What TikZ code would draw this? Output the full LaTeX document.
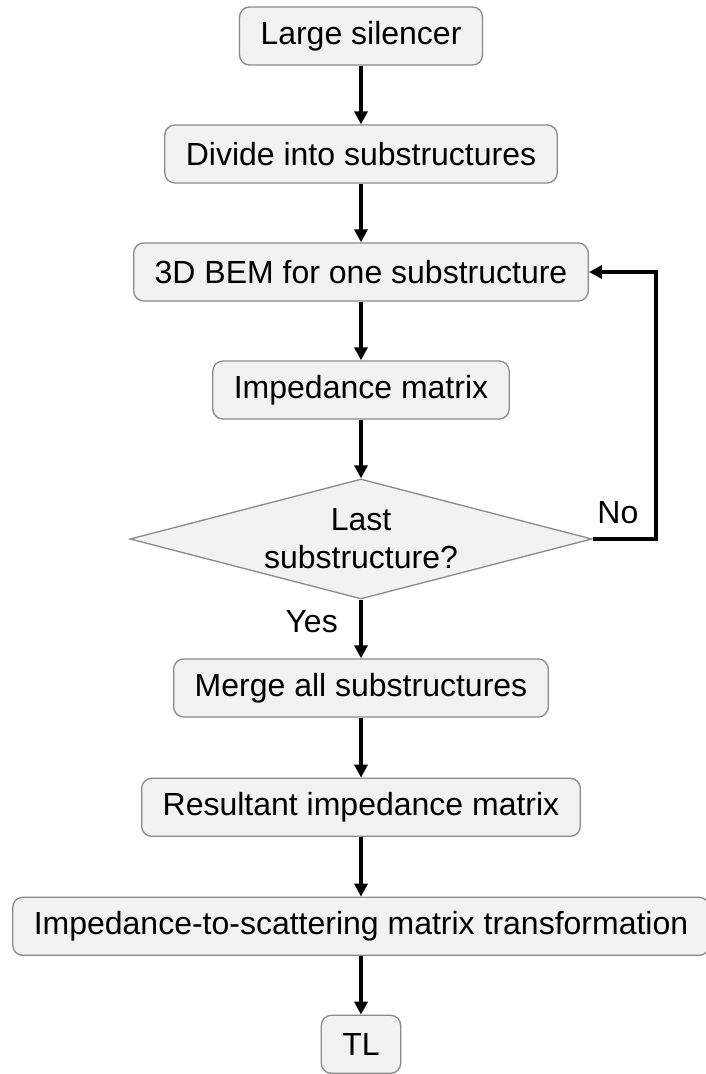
\documentclass[tikz,border=0pt]{standalone}
\usepackage{fontspec}
\setmainfont{Liberation Sans}
\usetikzlibrary{positioning,shapes.geometric,arrows.meta}
\definecolor{boxfill}{HTML}{F2F2F2}
\definecolor{boxline}{HTML}{8A8A8A}
\begin{document}
\begin{tikzpicture}[-{Triangle[length=13pt,width=13pt]}, line width=3.8pt, node distance=58.7pt,
    font=\fontsize{32}{38}\selectfont,
    block/.style = {rectangle, rounded corners=10pt, draw=boxline, fill=boxfill, line width=1.3pt, minimum height=58pt, inner xsep=21pt},
    decision/.style = {diamond, draw=boxline, fill=boxfill, line width=1.3pt, shape aspect=3.85, minimum width=462pt, minimum height=120pt, inner sep=0pt, align=center}]
    \useasboundingbox (0,0) rectangle (705pt,-1074pt);

    \node[block] (large) at (361pt,-36pt) {Large silencer};
    \node[block] (divide) [below=of large] {Divide into substructures};
    \node[block] (bem) [below=of divide] {3D BEM for one substructure};
    \node[block] (imp) [below=of bem] {Impedance matrix};
    \node[decision] (last) [below=of imp] {Last\\substructure?};
    \node[block] (merge) [below=of last] {Merge all substructures};
    \node[block] (result) [below=60pt of merge] {Resultant impedance matrix};
    \node[block] (transf) [below=59.7pt of result] {Impedance-to-scattering matrix transformation};
    \node[block] (tl) [below=of transf] {TL};

    \draw (large) -- (divide);
    \draw (divide) -- (bem);
    \draw (bem) -- (imp);
    \draw (imp) -- (last);
    \draw (last) -- node[left=18pt, pos=0.38] {Yes} (merge);
    \draw (last.east) -- node[above=10pt, pos=0.4] {No} ++(63pt,0) |- (bem.east);
    \draw (merge) -- (result);
    \draw (result) -- (transf);
    \draw (transf) -- (tl);
\end{tikzpicture}
\end{document}
